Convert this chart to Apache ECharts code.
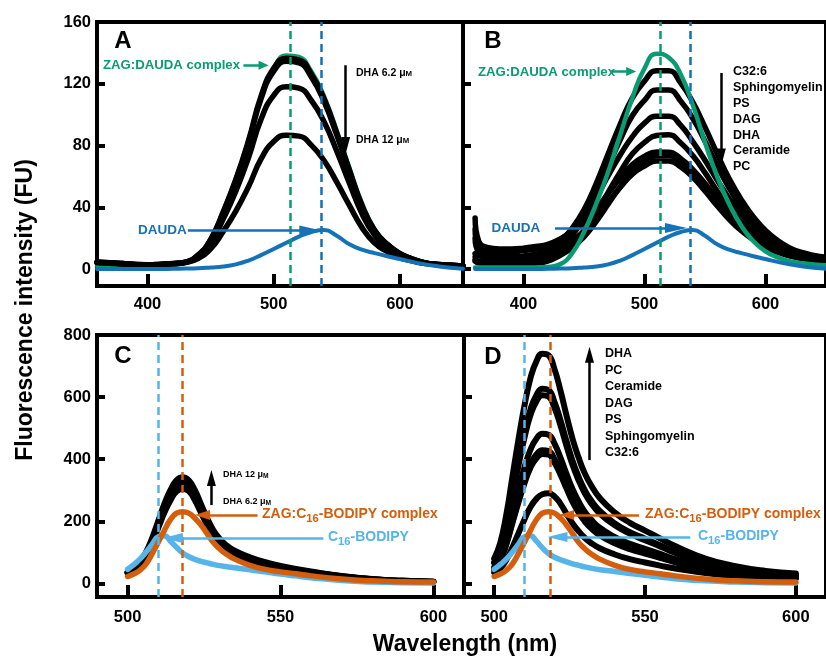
<!DOCTYPE html>
<html>
<head>
<meta charset="utf-8">
<script src="https://cdn.jsdelivr.net/npm/echarts@6/dist/echarts.min.js"></script>
<style>
  html, body { margin: 0; padding: 0; background: #fff; }
  #chart { width: 826px; height: 658px; }
</style>
</head>
<body>
<div id="chart"></div>
<script>
// ---------- wavelengths (nm) ----------
const WAVE_A = [360,370,380,390,400,410,420,430,440,450,460,470,480,490,500,510,520,530,540,550,560,570,580,590,600,610,620,630,640,650];
const WAVE_B = [360,363,370,380,390,400,410,420,430,440,450,460,470,480,490,500,510,520,530,540,550,560,570,580,590,600,610,620,630,640,650];
const WAVE_CD = [500,502,504,506,508,510,512,514,516,518,520,522,524,526,528,530,532,535,540,545,550,555,560,570,580,590,600];

// ---------- panel A: DAUDA displaced by DHA ----------
const DAUDA = [0,0,0,0,0,0,0.2,0.3,0.5,1,1.6,3,5.5,9,13,17,21,24,25.3,21.5,16,12.5,10.3,8.3,6.5,4.6,3,1.8,0.8,0.2];
const A_COMPLEX = [2,2,2,2,2,2,2.5,4,8,18,35.5,56.5,81.5,111,130,138.5,137.5,128,112,90,66,43,26,16.5,10.5,7,4.5,3,2.5,2];
const A_DHA_6_2 = [4.5,4,3.5,3,2.5,3,3.5,4.5,9,19,37,58,83,112,130,136.5,135.5,126,110,88,64,41,25,16,10,6.5,4,3,2.5,2];
const A_DHA_8 = [4.4,4,3.5,3,2.6,3,3.5,4.4,8.9,18.8,36.5,57.2,81.8,110.4,128.1,134.5,133.5,124.2,108.4,86.7,63.1,40.4,24.7,15.8,9.9,6.4,4,3,2.5,2];
const A_DHA_10 = [4.3,4,3.5,3,2.8,3,3.4,4.3,8.2,16.8,32.3,50.4,72,97,112.5,118.1,117.2,109,95.2,76.3,55.6,35.8,22,14.2,9,6,3.9,3,2.5,2];
const A_DHA_12 = [4.2,3.8,3.3,3,2.8,3,3.4,4.2,6.8,13,24.3,37.5,53.2,71.3,82.6,86.7,86.1,80.1,70.1,56.3,41.2,26.8,16.8,11.2,7.4,5.2,3.6,3,2.5,2];

// ---------- panel B: DAUDA displaced by lipids ----------
const B_COMPLEX = [1,1,1,1,1,1,1,1.3,3,10,24,42,63,87,111,130,139.5,137,126,106,82,60,42,28,18,11.5,7.5,5,3.8,3,2.5];
const B_C32_6 = [10,8.5,8,7.5,7.5,8,9.2,11.6,17.7,26.2,38.3,55.2,74.6,93.9,110.9,121.7,128.5,128.5,120.4,107.9,91.9,74.7,58.5,44.9,33.7,24.9,18.5,13.7,10.7,8.8,7.6];
const B_SPHINGOMYELIN = [6,5,5,4.5,4.5,5,6.1,8.3,13.9,21.7,32.8,48.3,66.1,83.8,99.4,109.3,116,116,108.7,97.4,82.8,67.1,52.4,40,29.8,21.9,16.3,11.9,9.1,7.4,6.3];
const B_PS = [26,14,12,11,11,12,12.9,14.6,19,25.2,34,46.3,60.4,74,85.8,94.5,99,99,93,82.4,70.5,57.7,45.7,35.5,27.1,20.5,15.6,11.5,8.8,7.5,6.6];
const B_DAG = [5,4,4,3.5,3.5,4,4.8,6.5,10.6,16.5,24.8,36.4,49.7,62.9,74.6,82,86.5,87,81.6,73.3,62.4,50.5,39.5,30.4,22.9,17.1,12.9,9.6,7.6,6.3,5.5];
const B_DHA = [33,18,14,13,13,13.5,14.6,16,19.3,23.9,30,38.7,48.8,58.9,67.6,73,75.8,75.7,71.5,64.4,55.4,45.6,36.5,28.8,22.3,17.2,13.4,10.3,8.1,6.6,6];
const B_CERAMIDE = [8,4,3,2.5,2.5,3,3.7,5.1,8.7,13.7,20.8,30.7,42.1,53.4,63.4,69.7,73.3,73.6,69.7,62.6,53.4,43.5,34.2,26.4,20,15.1,11.5,8.7,6.9,5.8,5.1];
const B_PC = [20,11,9,8,8,8.5,9.6,10.9,14,18.4,24.5,33.4,43.4,53,61.5,66.7,70,70,66.1,59.4,50.5,41,32.2,24.8,18.9,14.3,10.9,8.5,7,6,5.4];
const B_LIPIDS = ['C32:6', 'Sphingomyelin', 'PS', 'DAG', 'DHA', 'Ceramide', 'PC'];

// ---------- panel C: C16-BODIPY with DHA ----------
const C_BODIPY = [45,60,78,100,125,150,153,136,116,98,86,77,71,66,61,57,54,50,44,37,30,24,18,9,4,2,1];
const C_COMPLEX = [22,30,42,62,95,132,170,205,226,231,226,210,188,160,132,112,96,78,58,45,37,31,24,14,8,5,4];
const C_DHA_6_2 = [33,44,62,90,130,178,227,267,296,305,297,268,228,188,154,130,112,94,75,61,50,41,34,22,13,8,5];
const C_DHA_9 = [34,46,65,95,138,190,242,285,315,325,316,286,243,200,164,138,119,100,80,65,53,44,36,23,13,8,5];
const C_DHA_12 = [35,48,68,100,145,200,255,300,332,342,332,300,255,210,172,145,125,105,84,68,56,46,38,24,14,8,5];

// ---------- panel D: C16-BODIPY with lipids ----------
const D_BODIPY = [45,60,78,100,125,150,153,136,114,96,84,76,69,63,58,53,49,44,38,32,26,20,15,8,4,2,1];
const D_COMPLEX = [22,30,42,62,95,132,170,205,226,231,226,210,188,160,132,112,96,78,58,45,37,31,24,14,8,5,4];
const D_DHA = [80,130,220,340,460,570,660,715,740,735,690,620,540,465,405,355,318,275,228,195,170,145,120,80,55,40,32];
const D_PC = [68,110,186,288,390,483,559,606,627,623,584,525,457,394,343,301,269,233,193,165,144,123,102,68,47,34,27];
const D_CERAMIDE = [66,106,180,278,377,467,541,586,606,602,565,508,442,381,332,291,260,225,187,160,139,119,98,66,45,33,26];
const D_DAG = [52,85,143,222,300,372,430,466,482,479,450,404,352,303,264,231,207,179,149,127,111,95,78,52,36,26,21];
const D_PS = [46,75,128,197,267,331,383,415,429,426,400,360,313,270,235,206,184,160,132,113,99,84,70,46,32,23,19];
const D_SPHINGOMYELIN = [45,73,124,192,259,321,372,403,417,415,389,350,305,262,228,200,179,155,129,110,96,82,68,45,31,23,18];
const D_C32_6 = [34,48,75,115,160,205,245,272,287,290,280,256,224,193,168,147,131,113,93,78,67,57,48,33,24,19,16];
const D_LIPIDS = ['DHA', 'PC', 'Ceramide', 'DAG', 'PS', 'Sphingomyelin', 'C32:6'];

// ---------- peak wavelengths and ticks ----------
const PEAK_DAUDA_COMPLEX = 513;
const PEAK_DAUDA = 538;
const PEAK_BODIPY = 510;
const PEAK_BODIPY_COMPLEX = 518;
const AB_X_TICKS = [400, 500, 600];
const AB_Y_TICKS = [0, 40, 80, 120, 160];
const CD_X_TICKS = [500, 550, 600];
const CD_Y_TICKS = [0, 200, 400, 600, 800];

// ---------- styling ----------
const FONT = '"Liberation Sans", Arial, Helvetica, sans-serif';
const GREEN = '#099c72';
const BLUE = '#1672b6';
const SKY = '#56b4e9';
const ORANGE = '#d55e0c';
const BLACK = '#000000';

const pairs = (xs, ys) => xs.map((x, i) => [x, ys[i]]);

function curve(g, xs, ys, color, width) {
  return {
    type: 'line', xAxisIndex: g, yAxisIndex: g,
    data: pairs(xs, ys),
    showSymbol: false, symbol: 'none',
    smooth: 0.5,
    lineStyle: { color: color, width: width, cap: 'round', join: 'round' },
    itemStyle: { color: color },
    silent: true, animation: false
  };
}

function dashed(x, color) {
  return { xAxis: x, lineStyle: { color: color, width: 2.5, type: [8, 5] } };
}

function arrow(from, to, color, head) {
  return [
    { coord: from, symbol: 'none', lineStyle: { color: color, width: 2.5, type: 'solid' } },
    { coord: to, symbol: 'triangle', symbolSize: head }
  ];
}

function overlay(g, items) {
  return {
    type: 'line', xAxisIndex: g, yAxisIndex: g, data: [], silent: true, animation: false,
    markLine: {
      silent: true, animation: false, symbol: ['none', 'none'],
      label: { show: false }, emphasis: { disabled: true },
      data: items
    }
  };
}

function xAxisOf(g, min, max, ticks, margin) {
  return {
    gridIndex: g, type: 'value', min: min, max: max, position: 'bottom',
    axisLine: { show: false, onZero: false }, splitLine: { show: false },
    axisTick: { show: true, inside: true, length: 12, customValues: ticks, lineStyle: { color: BLACK, width: 4 } },
    axisLabel: { show: true, customValues: ticks, margin: margin, color: BLACK, fontWeight: 'bold', fontSize: 16.5, fontFamily: FONT }
  };
}

function yAxisOf(g, min, max, ticks, labels) {
  return {
    gridIndex: g, type: 'value', min: min, max: max, position: 'left',
    axisLine: { show: false, onZero: false }, splitLine: { show: false },
    axisTick: { show: true, inside: true, length: 8, customValues: ticks, lineStyle: { color: BLACK, width: 4 } },
    axisLabel: { show: labels, customValues: ticks, margin: 6, color: BLACK, fontWeight: 'bold', fontSize: 16.5, fontFamily: FONT }
  };
}

function text(x, y, str, color, size, align) {
  return {
    type: 'text', x: x, y: y, silent: true, z: 100,
    style: { text: str, fill: color, font: 'bold ' + size + 'px ' + FONT, align: align || 'left', verticalAlign: 'middle' }
  };
}

function micro(x, y, prefix, size) {
  return {
    type: 'text', x: x, y: y, silent: true, z: 100,
    style: {
      text: '{a|' + prefix + 'μ}{m|M}', align: 'left', verticalAlign: 'middle',
      rich: {
        a: { font: 'bold ' + size + 'px ' + FONT, fill: BLACK },
        m: { font: 'bold ' + (size * 0.74).toFixed(1) + 'px ' + FONT, fill: BLACK, padding: [2, 0, 0, 0] }
      }
    }
  };
}

function subscripted(x, y, before, sub, after, color, size) {
  return {
    type: 'text', x: x, y: y, silent: true, z: 100,
    style: {
      text: '{a|' + before + '}{s|' + sub + '}{a|' + after + '}', align: 'left', verticalAlign: 'middle',
      rich: {
        a: { font: 'bold ' + size + 'px ' + FONT, fill: color },
        s: { font: 'bold ' + (size * 0.8).toFixed(1) + 'px ' + FONT, fill: color, padding: [9, 0, 0, 0] }
      }
    }
  };
}

const series = [
  // A
  curve(0, WAVE_A, A_COMPLEX, GREEN, 4),
  curve(0, WAVE_A, A_DHA_12, BLACK, 5.5),
  curve(0, WAVE_A, A_DHA_10, BLACK, 5.5),
  curve(0, WAVE_A, A_DHA_8, BLACK, 5.5),
  curve(0, WAVE_A, A_DHA_6_2, BLACK, 5.5),
  curve(0, WAVE_A, DAUDA, BLUE, 4),
  overlay(0, [
    dashed(PEAK_DAUDA_COMPLEX, GREEN),
    dashed(PEAK_DAUDA, BLUE),
    arrow([476, 132], [492, 132], GREEN, [9, 10]),
    arrow([432, 25], [529, 25], BLUE, [10, 22]),
    arrow([557, 132], [557, 80], BLACK, [9, 17])
  ]),
  // B
  curve(1, WAVE_B, B_PC, BLACK, 5.5),
  curve(1, WAVE_B, B_CERAMIDE, BLACK, 5.5),
  curve(1, WAVE_B, B_DHA, BLACK, 5.5),
  curve(1, WAVE_B, B_DAG, BLACK, 5.5),
  curve(1, WAVE_B, B_PS, BLACK, 5.5),
  curve(1, WAVE_B, B_SPHINGOMYELIN, BLACK, 5.5),
  curve(1, WAVE_B, B_C32_6, BLACK, 5.5),
  curve(1, WAVE_B, B_COMPLEX, GREEN, 4.5),
  curve(1, WAVE_A, DAUDA, BLUE, 4),
  overlay(1, [
    dashed(PEAK_DAUDA_COMPLEX, GREEN),
    dashed(PEAK_DAUDA, BLUE),
    arrow([472, 128], [489, 128], GREEN, [9, 10]),
    arrow([426, 26.5], [526, 26.5], BLUE, [10, 22]),
    arrow([563.5, 127], [563.5, 72.5], BLACK, [9, 17])
  ]),
  // C
  curve(2, WAVE_CD, C_DHA_6_2, BLACK, 6),
  curve(2, WAVE_CD, C_DHA_9, BLACK, 6),
  curve(2, WAVE_CD, C_DHA_12, BLACK, 6),
  curve(2, WAVE_CD, C_BODIPY, SKY, 5.5),
  curve(2, WAVE_CD, C_COMPLEX, ORANGE, 5.5),
  overlay(2, [
    dashed(PEAK_BODIPY, SKY),
    dashed(PEAK_BODIPY_COMPLEX, ORANGE),
    arrow([527.4, 252], [527.4, 339], BLACK, [9, 16]),
    arrow([542.5, 220], [524.5, 220], ORANGE, [10, 15]),
    arrow([564, 146], [514.8, 146], SKY, [10, 20])
  ]),
  // D
  curve(3, WAVE_CD, D_C32_6, BLACK, 6),
  curve(3, WAVE_CD, D_SPHINGOMYELIN, BLACK, 6),
  curve(3, WAVE_CD, D_PS, BLACK, 6),
  curve(3, WAVE_CD, D_DAG, BLACK, 6),
  curve(3, WAVE_CD, D_CERAMIDE, BLACK, 6),
  curve(3, WAVE_CD, D_PC, BLACK, 6),
  curve(3, WAVE_CD, D_DHA, BLACK, 6),
  curve(3, WAVE_CD, D_BODIPY, SKY, 5.5),
  curve(3, WAVE_CD, D_COMPLEX, ORANGE, 5.5),
  overlay(3, [
    dashed(PEAK_BODIPY, SKY),
    dashed(PEAK_BODIPY_COMPLEX + 0.5, ORANGE),
    arrow([531.6, 397], [531.6, 736], BLACK, [9, 16]),
    arrow([548, 220], [524, 220], ORANGE, [10, 15]),
    arrow([565, 149], [521, 149], SKY, [10, 20])
  ])
];

const graphics = [
  text(123, 41, 'A', BLACK, 24, 'center'),
  text(493, 41, 'B', BLACK, 24, 'center'),
  text(123, 356, 'C', BLACK, 24, 'center'),
  text(493, 357, 'D', BLACK, 24, 'center'),
  text(103, 65.5, 'ZAG:DAUDA complex', GREEN, 13.2),
  text(138, 230.5, 'DAUDA', BLUE, 13.5),
  micro(356, 73, 'DHA 6.2 ', 10.5),
  micro(356, 140, 'DHA 12 ', 10.5),
  text(478, 72.5, 'ZAG:DAUDA complex', GREEN, 13.2),
  text(491.5, 228, 'DAUDA', BLUE, 13.5),
  micro(223, 475, 'DHA 12 ', 9),
  micro(223, 502, 'DHA 6.2 ', 9),
  subscripted(262, 514, 'ZAG:C', '16', '-BODIPY complex', ORANGE, 14),
  subscripted(328, 537, 'C', '16', '-BODIPY', SKY, 14),
  subscripted(645, 514, 'ZAG:C', '16', '-BODIPY complex', ORANGE, 14),
  subscripted(698, 536, 'C', '16', '-BODIPY', SKY, 14),
  {
    type: 'text', x: 26, y: 310, rotation: Math.PI / 2, silent: true, z: 100,
    style: { text: 'Fluorescence intensity (FU)', fill: BLACK, font: 'bold 23px ' + FONT, align: 'center', verticalAlign: 'middle' }
  },
  text(465, 645, 'Wavelength (nm)', BLACK, 23, 'center')
];
B_LIPIDS.forEach((name, i) => graphics.push(text(733, 72 + i * 15.8, name, BLACK, 12.5)));
D_LIPIDS.forEach((name, i) => graphics.push(text(605, 354 + i * 16.5, name, BLACK, 12.5)));

const frame = { show: true, borderColor: BLACK, borderWidth: 4, backgroundColor: 'transparent', containLabel: false };

const chart = echarts.init(document.getElementById('chart'), null, { renderer: 'canvas' });
chart.setOption({
  animation: false,
  backgroundColor: '#ffffff',
  grid: [
    Object.assign({ left: 97, top: 22, width: 366, height: 264 }, frame),
    Object.assign({ left: 463, top: 22, width: 368, height: 264 }, frame),
    Object.assign({ left: 97, top: 335, width: 367, height: 262 }, frame),
    Object.assign({ left: 464, top: 335, width: 367, height: 262 }, frame)
  ],
  xAxis: [
    xAxisOf(0, 360, 650, AB_X_TICKS, 10),
    xAxisOf(1, 350, 650, AB_X_TICKS, 10),
    xAxisOf(2, 490, 610, CD_X_TICKS, 12),
    xAxisOf(3, 490, 610, CD_X_TICKS, 12)
  ],
  yAxis: [
    yAxisOf(0, -11, 160, AB_Y_TICKS, true),
    yAxisOf(1, -11, 160, AB_Y_TICKS, false),
    yAxisOf(2, -44, 800, CD_Y_TICKS, true),
    yAxisOf(3, -44, 800, CD_Y_TICKS, false)
  ],
  series: series,
  graphic: { elements: graphics }
});
</script>
</body>
</html>
